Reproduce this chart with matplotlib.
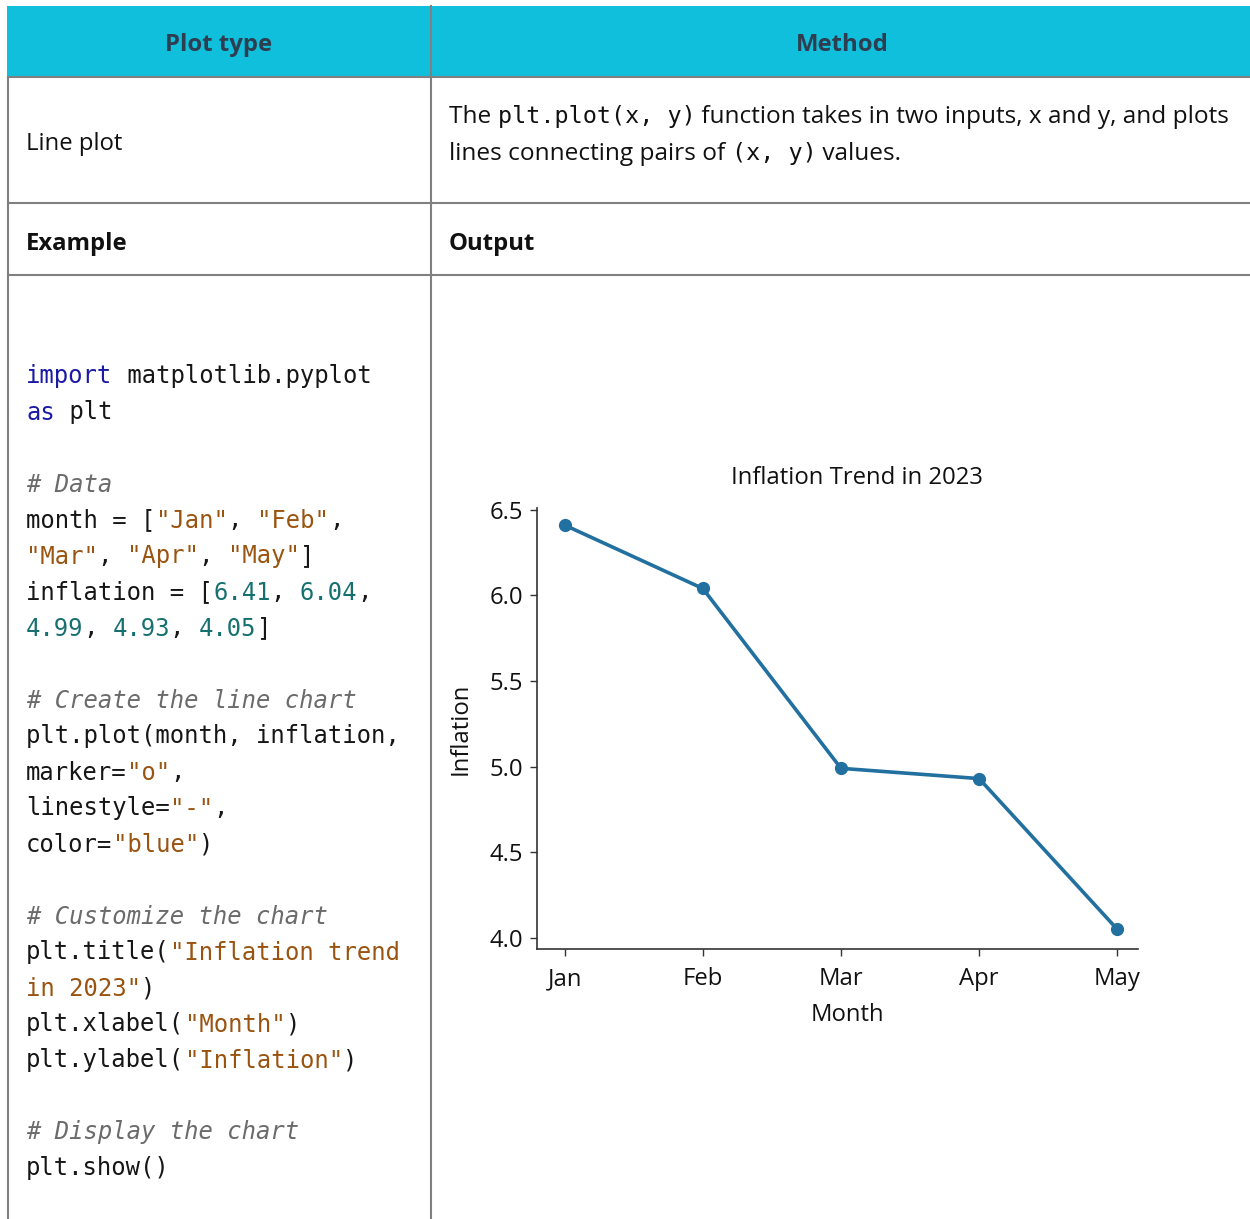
import matplotlib.pyplot as plt
from matplotlib.patches import Rectangle

# Data
month = ["Jan", "Feb", "Mar", "Apr", "May"]
inflation = [6.41, 6.04, 4.99, 4.93, 4.05]
yticks = [4.0, 4.5, 5.0, 5.5, 6.0, 6.5]

headers = ["Plot type", "Method"]
plot_type = "Line plot"

# code shown in the Example cell: (text, kind) tokens per line
code_lines = [
    [("import", "kw"), (" matplotlib.pyplot", "")],
    [("as", "kw"), (" plt", "")],
    [],
    [("# Data", "c")],
    [("month = [", ""), ('"Jan"', "s"), (", ", ""), ('"Feb"', "s"), (",", "")],
    [('"Mar"', "s"), (", ", ""), ('"Apr"', "s"), (", ", ""), ('"May"', "s"), ("]", "")],
    [("inflation = [", ""), ("6.41", "n"), (", ", ""), ("6.04", "n"), (",", "")],
    [("4.99", "n"), (", ", ""), ("4.93", "n"), (", ", ""), ("4.05", "n"), ("]", "")],
    [],
    [("# Create the line chart", "c")],
    [("plt.plot(month, inflation,", "")],
    [("marker=", ""), ('"o"', "s"), (",", "")],
    [("linestyle=", ""), ('"-"', "s"), (",", "")],
    [("color=", ""), ('"blue"', "s"), (")", "")],
    [],
    [("# Customize the chart", "c")],
    [("plt.title(", ""), ('"Inflation trend', "s")],
    [('in 2023"', "s"), (")", "")],
    [("plt.xlabel(", ""), ('"Month"', "s"), (")", "")],
    [("plt.ylabel(", ""), ('"Inflation"', "s"), (")", "")],
    [],
    [("# Display the chart", "c")],
    [("plt.show()", "")],
]

method_lines = [
    [("The ", "p"), ("plt.plot(x, y)", "m"), (" function takes in two inputs, x and y, and plots", "p")],
    [("lines connecting pairs of ", "p"), ("(x, y)", "m"), (" values.", "p")],
]

colors = {"kw": "#1a1aa6", "s": "#9a5410", "n": "#16706f", "c": "#6b6b6b", "": "#161616"}

SANS = ["Open Sans", "DejaVu Sans"]
MONO = "DejaVu Sans Mono"
FS = 17.2
cyan = "#10bfdc"
grid = "#808080"

fig = plt.figure(figsize=(12.5, 12.19), dpi=100)
bg = fig.add_axes([0, 0, 1, 1])
bg.set_xlim(0, 1250)
bg.set_ylim(1219, 0)
bg.axis("off")

# table
bg.add_patch(Rectangle((7, 6), 1243, 71, color=cyan, lw=0))
for y in [77, 203, 275]:
    bg.plot([8, 1250], [y, y], color=grid, lw=1.5)
bg.plot([8, 8], [77, 1219], color=grid, lw=1.5)
bg.plot([431, 431], [6, 1219], color=grid, lw=1.5)

bg.text(219, 42, headers[0], ha="center", va="center_baseline", fontsize=FS,
        fontweight="bold", color="#2e3d4f", family=SANS)
bg.text(842, 42, headers[1], ha="center", va="center_baseline", fontsize=FS,
        fontweight="bold", color="#2e3d4f", family=SANS)
bg.text(26, 141, plot_type, va="center_baseline", fontsize=FS, color="#111111", family=SANS)
bg.text(26, 241, "Example", va="center_baseline", fontsize=FS, fontweight="bold",
        color="#111111", family=SANS)
bg.text(449, 241, "Output", va="center_baseline", fontsize=FS, fontweight="bold",
        color="#111111", family=SANS)

# method text with inline mono parts
renderer = fig.canvas.get_renderer()
for i, line in enumerate(method_lines):
    x = 449
    y = 114 + i * 37
    for txt, kind in line:
        if kind == "m":
            t = bg.text(x, y, txt, va="center_baseline", fontsize=16.8, family=MONO, color="#111111")
        else:
            t = bg.text(x, y, txt, va="center_baseline", fontsize=17.6, family=SANS, color="#111111")
        w = t.get_window_extent(renderer=renderer).width
        x += w

# code block, monospace grid
cw = 14.42
for i, line in enumerate(code_lines):
    y = 374 + i * 36
    col = 0
    for txt, kind in line:
        bg.text(26 + col * cw, y, txt, va="center_baseline", fontsize=17.2, family=MONO,
                color=colors[kind], style="italic" if kind == "c" else "normal")
        col += len(txt)

# chart
ax = fig.add_axes([537 / 1250, 1 - 949 / 1219, 601 / 1250, (949 - 508) / 1219])
ax.plot(month, inflation, marker="o", linestyle="-", color="#22709f", lw=2.6, markersize=8.5)
ax.set_xlim(-0.2, 4.15)
ax.set_ylim(3.935, 6.51)
ax.set_yticks(yticks)
ax.set_yticklabels([f"{v:.1f}" for v in yticks])
for s in ["top", "right"]:
    ax.spines[s].set_visible(False)
for s in ["left", "bottom"]:
    ax.spines[s].set_color("#333333")
    ax.spines[s].set_linewidth(1.2)
ax.tick_params(length=5, width=1, color="#333333", labelsize=FS, labelcolor="#111111")
ax.tick_params(axis="x", pad=8)
ax.tick_params(axis="y", pad=5)
for lab in ax.get_xticklabels() + ax.get_yticklabels():
    lab.set_family(SANS)
ax.set_title("Inflation Trend in 2023", fontsize=FS, family=SANS, color="#111111", x=0.532, pad=17)
ax.set_xlabel("Month", fontsize=FS, family=SANS, color="#111111")
ax.set_ylabel("Inflation", fontsize=FS, family=SANS, color="#111111", labelpad=12)
ax.xaxis.set_label_coords(0.516, -0.122)

fig.savefig("out.png", dpi=100)
